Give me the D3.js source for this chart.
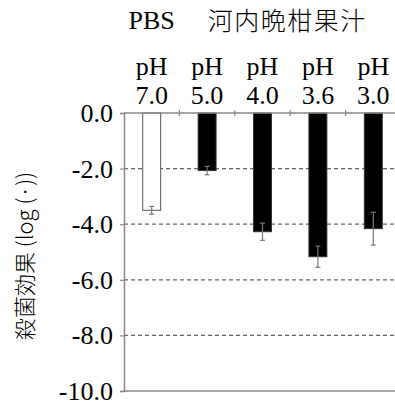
<!DOCTYPE html>
<html><head><meta charset="utf-8">
<script src="https://cdn.jsdelivr.net/npm/d3@7"></script>
<style>html,body{margin:0;padding:0;background:#fff;}svg{display:block;}
.sr{font-family:"Liberation Serif","DejaVu Serif","Times New Roman",serif;}
.jp{font-family:"Noto Sans CJK JP","Noto Sans CJK SC",sans-serif;}
</style>
</head><body>
<script>
const categories = ["pH 7.0","pH 5.0","pH 4.0","pH 3.6","pH 3.0"];
const phLabels = ["7.0","5.0","4.0","3.6","3.0"];
const values = [-3.5, -2.07, -4.27, -5.17, -4.16];
const errors = [0.14, 0.15, 0.31, 0.38, 0.59];
const groups = ["PBS","河内晩柑果汁","河内晩柑果汁","河内晩柑果汁","河内晩柑果汁"];
const yTicks = [0,-2,-4,-6,-8,-10];

const W=395,H=406;
const svg=d3.select("body").append("svg").attr("width",W).attr("height",H);

const x=d3.scaleBand().domain(categories).range([124,401]).paddingInner(0.676).paddingOuter(0.338);
const y=d3.scaleLinear().domain([-10,0]).range([391,113]);
const step=x.step(), bw=x.bandwidth();
const cx=d=>x(d)+bw/2;

// grid lines
svg.append("g").selectAll("line").data(yTicks.filter(t=>t<0&&t>-10)).join("line")
  .attr("x1",124).attr("x2",W).attr("y1",d=>y(d)).attr("y2",d=>y(d))
  .attr("stroke","#666").attr("stroke-width",1.2).attr("stroke-dasharray","4,3");

// y axis
const yAxis=d3.axisLeft(y).tickValues(yTicks).tickFormat(d=>d===0?"0.0":d3.format(".1f")(d).replace("−","-")).tickSize(4).tickPadding(7);
const ga=svg.append("g").attr("transform","translate(124,0)").call(yAxis);
ga.attr("font-family",null).attr("font-size",null);
ga.select(".domain").attr("stroke","#888").attr("stroke-width",1.5);
ga.selectAll(".tick line").attr("stroke","#888").attr("stroke-width",1.2);
ga.selectAll(".tick text").attr("class","sr").style("font-size","26px").attr("fill","#000").attr("dy","0.33em");

// bottom line at -10
svg.append("line").attr("x1",124).attr("x2",W).attr("y1",y(-10)).attr("y2",y(-10)).attr("stroke","#888").attr("stroke-width",1.5);

// bars
svg.append("g").selectAll("rect").data(categories).join("rect")
  .attr("x",d=>x(d)).attr("width",bw)
  .attr("y",y(0)).attr("height",(d,i)=>y(values[i])-y(0))
  .attr("fill",(d,i)=>groups[i]==="PBS"?"#fff":"#000")
  .attr("stroke",(d,i)=>groups[i]==="PBS"?"#555":"#333").attr("stroke-width",1);

// error bars
const eg=svg.append("g").attr("stroke","#777").attr("stroke-width",1.2);
categories.forEach((d,i)=>{
  const c=cx(d), lo=y(values[i]-errors[i]), hi=y(values[i]+errors[i]);
  eg.append("line").attr("x1",c).attr("x2",c).attr("y1",hi).attr("y2",lo);
  eg.append("line").attr("x1",c-2.5).attr("x2",c+2.5).attr("y1",hi).attr("y2",hi);
  eg.append("line").attr("x1",c-2.5).attr("x2",c+2.5).attr("y1",lo).attr("y2",lo);
});

// zero baseline
svg.append("line").attr("x1",124).attr("x2",W).attr("y1",y(0)).attr("y2",y(0)).attr("stroke","#888").attr("stroke-width",1.5);
// category ticks on baseline
svg.append("g").selectAll("line").data(categories.slice(1)).join("line")
  .attr("x1",d=>cx(d)-step/2).attr("x2",d=>cx(d)-step/2)
  .attr("y1",y(0)-3).attr("y2",y(0)+3).attr("stroke","#888").attr("stroke-width",1.2);

// category labels
svg.append("g").selectAll("text").data(categories).join("text")
  .attr("class","sr").style("font-size","26px")
  .attr("x",d=>cx(d)).attr("y",75).attr("text-anchor","middle").text("pH");
svg.append("g").selectAll("text").data(categories).join("text")
  .attr("class","sr").style("font-size","26px")
  .attr("x",d=>cx(d)).attr("y",104).attr("text-anchor","middle").text((d,i)=>phLabels[i]);

// group labels
svg.append("text").attr("class","sr").style("font-size","26px")
  .attr("x",cx(categories[0])).attr("y",29).attr("text-anchor","middle").text("PBS");
svg.append("text").attr("class","jp").style("font-size","25px").style("font-weight","300").style("letter-spacing","1.5px")
  .attr("x",(cx(categories[1])+cx(categories[4]))/2-3).attr("y",30).attr("text-anchor","middle").text("河内晩柑果汁");

// y label
svg.append("text").attr("class","jp").style("font-size","22px").style("font-weight","300")
  .attr("transform","translate(33,256) rotate(-90)").attr("text-anchor","middle")
  .text("殺菌効果 (log (·))");
</script>
</body></html>
